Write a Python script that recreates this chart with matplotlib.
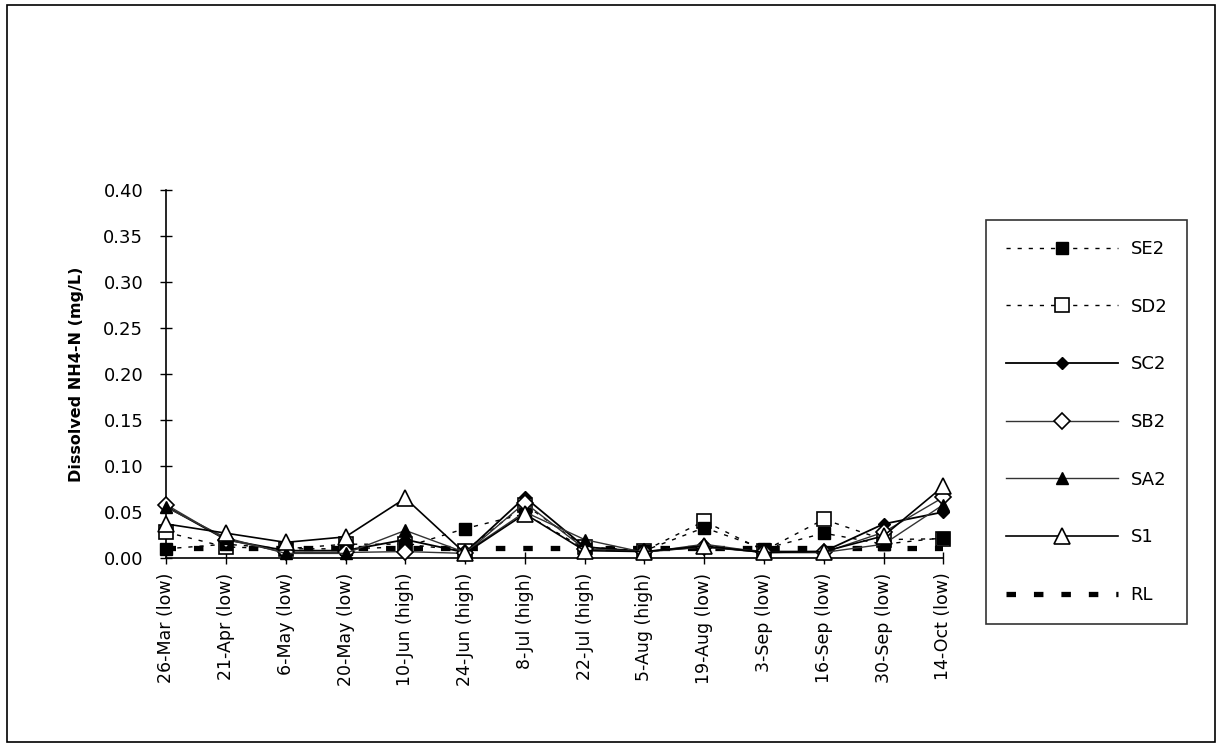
import numpy as np
import matplotlib.pyplot as plt
from matplotlib.patches import Rectangle

# sampling dates (tide in brackets)
dates = ['26-Mar (low)', '21-Apr (low)', '6-May (low)', '20-May (low)',
         '10-Jun (high)', '24-Jun (high)', '8-Jul (high)', '22-Jul (high)',
         '5-Aug (high)', '19-Aug (low)', '3-Sep (low)', '16-Sep (low)',
         '30-Sep (low)', '14-Oct (low)']

# dissolved NH4-N (mg/L) per site
se2 = [0.010, 0.015, 0.010, 0.010, 0.012, 0.032, 0.048, 0.010, 0.008, 0.033, 0.010, 0.027, 0.015, 0.022]
sd2 = [0.028, 0.012, 0.010, 0.015, 0.015, 0.008, 0.058, 0.012, 0.008, 0.040, 0.008, 0.042, 0.020, 0.021]
sc2 = [0.056, 0.020, 0.008, 0.008, 0.020, 0.006, 0.066, 0.012, 0.007, 0.012, 0.007, 0.007, 0.037, 0.050]
sb2 = [0.058, 0.020, 0.006, 0.006, 0.007, 0.005, 0.060, 0.010, 0.007, 0.012, 0.006, 0.006, 0.028, 0.066]
sa2 = [0.055, 0.022, 0.005, 0.005, 0.030, 0.006, 0.050, 0.020, 0.006, 0.015, 0.006, 0.006, 0.015, 0.058]
s1 = [0.037, 0.027, 0.017, 0.023, 0.065, 0.005, 0.048, 0.008, 0.007, 0.013, 0.006, 0.007, 0.024, 0.078]
rl = [0.011] * len(dates)

fig = plt.figure(figsize=(12.22, 7.48), dpi=100)
ax = fig.add_axes([0.136, 0.254, 0.636, 0.492])

x = np.arange(len(dates))

ax.plot(x, se2, color='black', lw=1.0, dashes=(3, 5), marker='s', ms=9,
        mfc='black', mec='black', label='SE2', zorder=3.5, clip_on=False)
ax.plot(x, sd2, color='black', lw=1.0, dashes=(3, 5), marker='s', ms=10,
        mfc='white', mec='black', mew=1.2, label='SD2', zorder=3, clip_on=False)
ax.plot(x, sc2, color='black', lw=1.3, marker='D', ms=6,
        mfc='black', mec='black', label='SC2', zorder=4, clip_on=False)
ax.plot(x, sb2, color='#333333', lw=1.0, marker='D', ms=8,
        mfc='white', mec='black', mew=1.2, label='SB2', zorder=5, clip_on=False)
ax.plot(x, sa2, color='#333333', lw=1.0, marker='^', ms=8,
        mfc='black', mec='black', label='SA2', zorder=6, clip_on=False)
ax.plot(x, s1, color='black', lw=1.2, marker='^', ms=12,
        mfc='white', mec='black', mew=1.2, label='S1', zorder=7, clip_on=False)
ax.plot(x, rl, color='black', lw=3.8, dashes=(1.8, 3.4), label='RL', zorder=2)

ax.set_xlim(0, len(dates) - 1)
ax.set_ylim(0, 0.40)
ax.set_yticks(np.arange(0, 0.41, 0.05))
ax.set_yticklabels([f'{v:.2f}' for v in np.arange(0, 0.41, 0.05)], fontsize=13)
ax.set_xticks(x)
ax.set_xticklabels(dates, rotation=90, fontsize=12.5)
ax.tick_params(axis='both', direction='inout', length=9, width=1)
ax.tick_params(axis='y', pad=12)
ax.tick_params(axis='x', pad=6)
ax.set_ylabel('Dissolved NH4-N (mg/L)', fontsize=11.5, fontweight='bold', labelpad=14)

for side in ['top', 'right']:
    ax.spines[side].set_visible(False)
ax.spines['left'].set_linewidth(1.2)
ax.spines['bottom'].set_linewidth(1.2)

leg = fig.legend(loc='upper left', bbox_to_anchor=(986 / 1222, 1 - 220 / 748),
                 fontsize=13, handlelength=6.2, labelspacing=2.2,
                 borderpad=1.1, handletextpad=0.7, fancybox=False,
                 frameon=True, edgecolor='black', borderaxespad=0)
leg.get_frame().set_linewidth(1.2)

# chart border
fig.patches.append(Rectangle((0.006, 0.008), 0.988, 0.985, transform=fig.transFigure,
                             fill=False, edgecolor='black', lw=1.2))

fig.savefig('out.png', dpi=100)
